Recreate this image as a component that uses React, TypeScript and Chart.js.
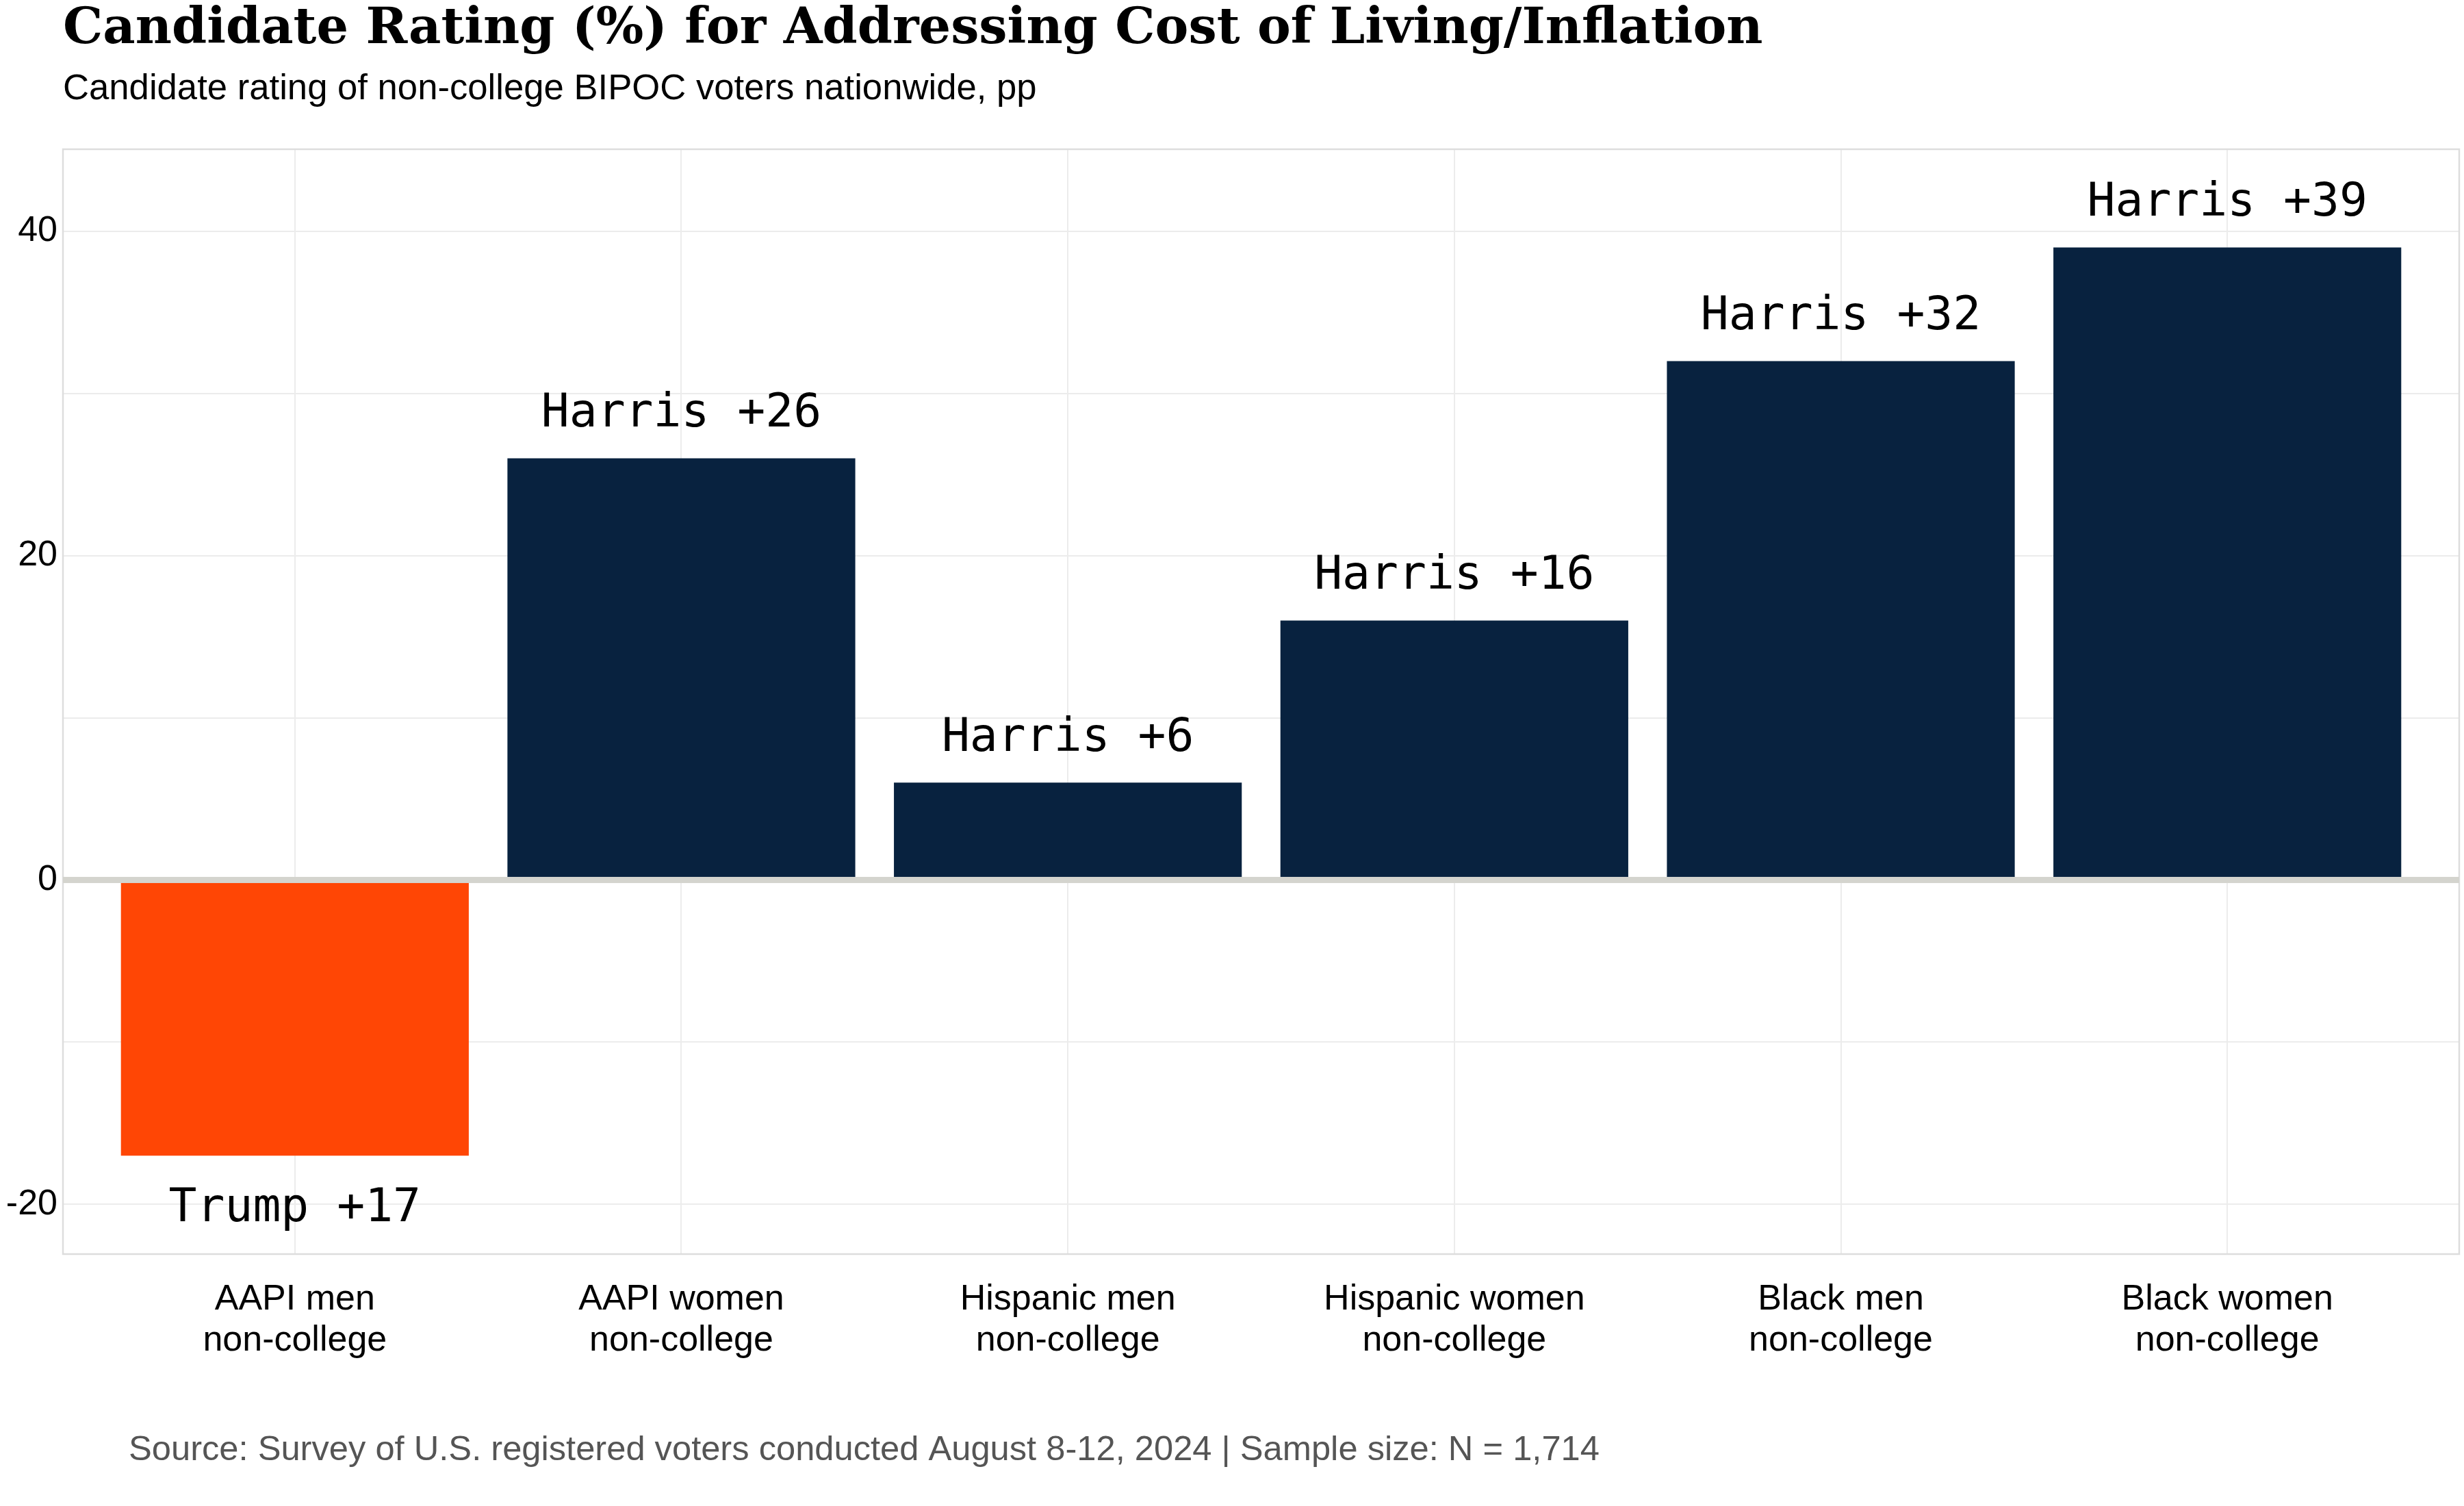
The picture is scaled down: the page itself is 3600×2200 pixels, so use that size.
import React, { useEffect, useRef } from "react";
import { Chart, registerables } from "chart.js";

Chart.register(...registerables);

const titleText = "Candidate Rating (%) for Addressing Cost of Living/Inflation";
const subtitleText = "Candidate rating of non-college BIPOC voters nationwide, pp";
const sourceText =
  "Source: Survey of U.S. registered voters conducted August 8-12, 2024 | Sample size: N = 1,714";

const categories: string[][] = [
  ["AAPI men", "non-college"],
  ["AAPI women", "non-college"],
  ["Hispanic men", "non-college"],
  ["Hispanic women", "non-college"],
  ["Black men", "non-college"],
  ["Black women", "non-college"],
];

// positive = Harris lead, negative = Trump lead (pp)
const margins: number[] = [-17, 26, 6, 16, 32, 39];

const yLabeledTicks: number[] = [-20, 0, 20, 40];

const HARRIS_COLOR = "#08223f";
const TRUMP_COLOR = "#ff4605";

const W = 3600;
const H = 2200;

function labelFor(v: number): string {
  return v < 0 ? `Trump +${-v}` : `Harris +${v}`;
}

function fitFont(
  ctx: CanvasRenderingContext2D,
  text: string,
  weight: string,
  family: string,
  targetWidth: number
): string {
  ctx.font = `${weight} 100px ${family}`;
  const w = ctx.measureText(text).width;
  const size = (100 * targetWidth) / w;
  return `${weight} ${size.toFixed(2)}px ${family}`;
}

const decorPlugin = {
  id: "decor",
  beforeDatasetsDraw(chart: any) {
    const { ctx, chartArea } = chart;
    ctx.save();
    ctx.strokeStyle = "#dddddd";
    ctx.lineWidth = 2.5;
    ctx.strokeRect(
      chartArea.left,
      chartArea.top,
      chartArea.right - chartArea.left,
      chartArea.bottom - chartArea.top
    );
    ctx.restore();
  },
  afterDatasetsDraw(chart: any) {
    const { ctx, chartArea, scales } = chart;
    const y = scales.y;
    ctx.save();
    // zero line
    const zy = y.getPixelForValue(0);
    ctx.fillStyle = "#d4d4ce";
    ctx.fillRect(chartArea.left, zy - 4.5, chartArea.right - chartArea.left, 9);

    // bar labels
    const meta = chart.getDatasetMeta(0);
    ctx.font = '68px "DejaVu Sans Mono"';
    ctx.fillStyle = "#000000";
    ctx.textAlign = "center";
    ctx.textBaseline = "alphabetic";
    const capHalf = 0.729 * 68 * 0.5;
    margins.forEach((v, i) => {
      const el = meta.data[i];
      const py = y.getPixelForValue(v + (v < 0 ? -3 : 3));
      ctx.fillText(labelFor(v), el.x, py + capHalf);
    });
    ctx.restore();
  },
  afterDraw(chart: any) {
    const { ctx } = chart;
    ctx.save();
    ctx.textAlign = "left";
    ctx.textBaseline = "alphabetic";
    ctx.fillStyle = "#000000";
    ctx.font = fitFont(ctx, titleText, "bold", '"DejaVu Serif"', 2484);
    ctx.fillText(titleText, 92, 63);

    ctx.font = fitFont(ctx, subtitleText, "normal", '"Liberation Sans"', 1423);
    ctx.fillText(subtitleText, 92, 145);

    ctx.fillStyle = "#555555";
    ctx.font = fitFont(ctx, sourceText, "normal", '"Liberation Sans"', 2149);
    ctx.fillText(sourceText, 188, 2133);
    ctx.restore();
  },
};

export default function App() {
  const ref = useRef<HTMLCanvasElement | null>(null);

  useEffect(() => {
    if (!ref.current) return;
    const chart = new Chart(ref.current, {
      type: "bar",
      data: {
        datasets: [
          {
            data: margins.map((v, i) => ({ x: i, y: v })),
            backgroundColor: margins.map((v) => (v < 0 ? TRUMP_COLOR : HARRIS_COLOR)),
            borderWidth: 0,
            barPercentage: 0.9,
            categoryPercentage: 1.0,
          },
        ],
      },
      options: {
        responsive: false,
        devicePixelRatio: 1,
        animation: false,
        layout: { padding: { top: 218, right: 7, left: 0, bottom: 0 } },
        plugins: {
          legend: { display: false },
          tooltip: { enabled: false },
          title: { display: false },
        },
        scales: {
          x: {
            type: "linear",
            min: -0.6,
            max: 5.6,
            offset: false,
            grid: { color: "#ececec", lineWidth: 2, drawTicks: false, offset: false },
            border: { display: false },
            ticks: {
              stepSize: 1,
              includeBounds: false,
              autoSkip: false,
              maxRotation: 0,
              minRotation: 0,
              padding: 37,
              color: "#000000",
              font: { family: '"Liberation Sans"', size: 52, lineHeight: 1.15 },
              callback: (value: any) => {
                const i = Math.round(Number(value));
                return categories[i] ?? "";
              },
            },
            afterFit: (scale: any) => {
              scale.height = 2200 - 1832;
            },
          },
          y: {
            type: "linear",
            min: -23.07,
            max: 45.06,
            grid: { color: "#ececec", lineWidth: 2, drawTicks: false },
            border: { display: false },
            ticks: {
              stepSize: 10,
              includeBounds: false,
              padding: 8,
              color: "#000000",
              font: { family: '"Liberation Sans"', size: 52 },
              callback: (value: any) => {
                const v = Number(value);
                return yLabeledTicks.includes(v) ? String(v) : "";
              },
            },
            afterFit: (scale: any) => {
              scale.width = 92;
            },
          },
        },
      },
      plugins: [decorPlugin],
    } as any);
    return () => chart.destroy();
  }, []);

  return (
    <div
      style={{
        position: "fixed",
        left: 0,
        top: 0,
        width: W,
        height: H,
        background: "#ffffff",
      }}
    >
      <canvas ref={ref} width={W} height={H} style={{ width: W, height: H, display: "block" }} />
    </div>
  );
}
